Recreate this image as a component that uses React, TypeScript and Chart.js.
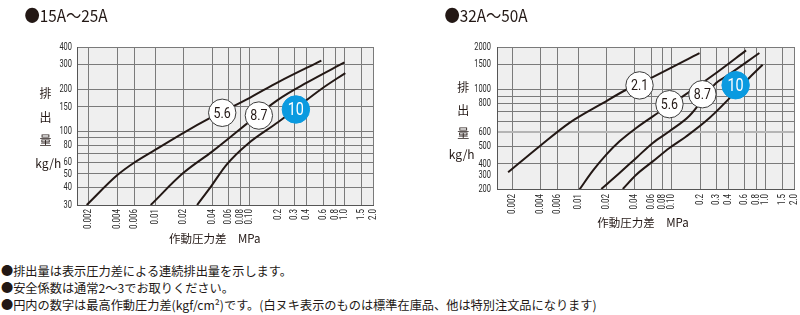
import React, { useEffect, useRef } from "react";
import { Chart, registerables } from "chart.js";

Chart.register(...registerables);

// ---------- shared axis data ----------
const pressureTicks = [0.002, 0.004, 0.006, 0.01, 0.02, 0.04, 0.06, 0.08, 0.1, 0.2, 0.3, 0.4, 0.6, 0.8, 1.0, 1.5, 2.0];
const pressureLabels = ["0.002", "0.004", "0.006", "0.01", "0.02", "0.04", "0.06", "0.08", "0.10", "0.2", "0.3", "0.4", "0.6", "0.8", "1.0", "1.5", "2.0"];

// ---------- 15A～25A ----------
const smallYTicks = [30, 40, 50, 60, 70, 80, 90, 100, 150, 200, 300, 400];
const smallYLabels = ["30", "40", "50", "60", "", "80", "", "100", "150", "200", "300", "400"];

const small56X = [0.0019, 0.004, 0.006, 0.01, 0.02, 0.04, 0.1, 0.2, 0.57];
const small56Y = [30, 49, 60, 74, 98, 127, 174, 225, 320];
const small87X = [0.009, 0.0198, 0.04, 0.2, 0.4, 1.0];
const small87Y = [30, 50.6, 72, 169, 223, 311];
const small10X = [0.0278, 0.0394, 0.0567, 0.0957, 0.2, 0.57, 1.02];
const small10Y = [30, 41.1, 58, 82, 117, 201, 261];

const smallBadgeText = ["5.6", "8.7", "10"];
const smallBadgeX = [0.0512, 0.1248, 0.3067];
const smallBadgeY = [136, 130, 143.6];
const smallBadgeFilled = [false, false, true];

// ---------- 32A～50A ----------
const largeYTicks = [200, 250, 300, 400, 500, 600, 700, 800, 900, 1000, 1500, 2000];
const largeYLabels = ["200", "300", "400", "500", "600", "", "", "800", "", "1000", "1500", "2000"];

const large21X = [0.0018, 0.0039, 0.0081, 0.0184, 0.0326, 0.0626, 0.197];
const large21Y = [262, 400, 585, 806, 1000, 1229, 1814];
const large56X = [0.0104, 0.0144, 0.02, 0.0277, 0.0417, 0.0626, 0.1306, 0.296, 0.617];
const large56Y = [199, 269, 349, 433, 538, 649, 898, 1312, 1893];
const large87X = [0.0177, 0.0277, 0.0417, 0.0626, 0.0942, 0.154, 0.296, 0.378, 0.855];
const large87Y = [200, 259, 331, 422, 510, 656, 1116, 1241, 1814];
const large10X = [0.03, 0.0417, 0.0626, 0.0942, 0.142, 0.251, 0.669, 0.927];
const large10Y = [200, 252, 313, 389, 469, 632, 1216, 1500];

const largeBadgeText = ["2.1", "5.6", "8.7", "10"];
const largeBadgeX = [0.0452, 0.0942, 0.2115, 0.4775];
const largeBadgeY = [1073, 791, 930, 1076];
const largeBadgeFilled = [false, false, false, true];

// ---------- styles ----------
const SANS = "Roboto, 'Noto Sans', sans-serif";
const JP = "'Noto Sans CJK JP', 'Noto Sans', sans-serif";
const INK = "#231815";
const LABEL = "#2a2a2a";
const BLUE = "#0a9ae0";
const GRID = "#7a7a7a";
const PLOT_BG = "#efefef";

type Series = { xs: number[]; ys: number[] };

type PanelProps = {
  left: number;
  width: number;
  height: number;
  xMin: number;
  yMin: number;
  yMax: number;
  yTicks: number[];
  yLabels: string[];
  series: Series[];
  badgeText: string[];
  badgeX: number[];
  badgeY: number[];
  badgeFilled: boolean[];
  yAxisWidth: number;
  xAxisHeight: number;
  padTop: number;
  padRight: number;
  yLabelPad: number;
  xLabelPad: number;
  highlightY?: number;
  labelOnlyY?: number;
};

// draws text horizontally condensed (the reference uses a condensed gothic face)
function condensedText(ctx: any, text: string, x: number, y: number, rot: number, sx: number) {
  ctx.save();
  ctx.translate(x, y);
  if (rot) ctx.rotate(rot);
  ctx.scale(sx, 1);
  ctx.fillText(text, 0, 0);
  ctx.restore();
}

function Panel(p: PanelProps) {
  const ref = useRef<HTMLCanvasElement>(null);
  useEffect(() => {
    const decor = {
      id: "decor",
      beforeDraw(chart: any) {
        const { ctx, chartArea } = chart;
        ctx.save();
        ctx.fillStyle = PLOT_BG;
        ctx.fillRect(chartArea.left, chartArea.top, chartArea.right - chartArea.left, chartArea.bottom - chartArea.top);
        ctx.restore();
      },
      afterDatasetsDraw(chart: any) {
        const { ctx } = chart;
        const xs = chart.scales.x;
        const ys = chart.scales.y;
        p.badgeText.forEach((t, i) => {
          const px = xs.getPixelForValue(p.badgeX[i]);
          const py = ys.getPixelForValue(p.badgeY[i]);
          const filled = p.badgeFilled[i];
          ctx.save();
          ctx.beginPath();
          ctx.arc(px, py, 13.7, 0, Math.PI * 2);
          ctx.fillStyle = filled ? BLUE : "#ffffff";
          ctx.fill();
          ctx.lineWidth = 1;
          ctx.strokeStyle = filled ? BLUE : "#3c3c3c";
          ctx.stroke();
          ctx.fillStyle = filled ? "#ffffff" : INK;
          ctx.font = filled ? `18px ${SANS}` : `15.5px ${SANS}`;
          ctx.textAlign = "center";
          ctx.textBaseline = "middle";
          condensedText(ctx, t, px, py + 1, 0, 0.8);
          ctx.restore();
        });
      },
      afterDraw(chart: any) {
        const { ctx, chartArea } = chart;
        const xs = chart.scales.x;
        const ys = chart.scales.y;
        ctx.save();
        ctx.fillStyle = LABEL;
        ctx.textAlign = "right";
        ctx.textBaseline = "middle";
        ctx.font = `11px ${SANS}`;
        ys.ticks.forEach((t: any) => {
          if (!t.label) return;
          condensedText(ctx, String(t.label), chartArea.left - p.yLabelPad, ys.getPixelForValue(t.value), 0, 0.68);
        });
        ctx.font = `10px ${SANS}`;
        xs.ticks.forEach((t: any) => {
          if (!t.label) return;
          condensedText(ctx, String(t.label), xs.getPixelForValue(t.value), chartArea.bottom + p.xLabelPad, -Math.PI / 2, 0.8);
        });
        ctx.restore();
      },
    };

    const chart = new Chart(ref.current as HTMLCanvasElement, {
      type: "scatter",
      data: {
        datasets: p.series.map((s) => ({
          data: s.xs.map((x, i) => ({ x, y: s.ys[i] })),
          showLine: true,
          borderColor: INK,
          borderWidth: 2,
          pointRadius: 0,
          cubicInterpolationMode: "monotone" as const,
        })),
      },
      options: {
        responsive: false,
        animation: false,
        events: [],
        layout: { padding: { top: p.padTop, right: p.padRight, left: 0, bottom: 0 } },
        plugins: { legend: { display: false }, tooltip: { enabled: false } },
        scales: {
          x: {
            type: "logarithmic",
            min: p.xMin,
            max: 2.0,
            afterBuildTicks: (s: any) => {
              s.ticks = pressureTicks.map((v) => ({ value: v }));
            },
            afterFit: (s: any) => {
              s.height = p.xAxisHeight;
            },
            ticks: {
              display: false,
              autoSkip: false,
              callback: (_v: any, i: number) => pressureLabels[i],
            },
            grid: { color: GRID, lineWidth: 1, drawTicks: false },
            border: { display: true, color: "#555555", width: 1 },
          },
          y: {
            type: "logarithmic",
            min: p.yMin,
            max: p.yMax,
            afterBuildTicks: (s: any) => {
              s.ticks = p.yTicks.map((v) => ({ value: v }));
            },
            afterFit: (s: any) => {
              s.width = p.yAxisWidth;
            },
            ticks: {
              display: false,
              autoSkip: false,
              callback: (_v: any, i: number) => p.yLabels[i],
            },
            grid: {
              drawTicks: false,
              color: (ctx: any) => {
                const v = ctx.tick ? ctx.tick.value : null;
                if (v === p.labelOnlyY) return "rgba(0,0,0,0)";
                if (v === p.highlightY) return "#b5b5b5";
                return GRID;
              },
              lineWidth: (ctx: any) => (ctx.tick && ctx.tick.value === p.highlightY ? 2 : 1),
            },
            border: { display: true, color: "#555555", width: 1 },
          },
        },
      } as any,
      plugins: [decor],
    });
    return () => chart.destroy();
  }, []);
  return (
    <canvas
      ref={ref}
      width={p.width}
      height={p.height}
      style={{ position: "absolute", left: p.left, top: 0, width: p.width, height: p.height }}
    />
  );
}

function Txt(props: { x: number; y: number; size: number; children: React.ReactNode; sx?: number }) {
  return (
    <div
      style={{
        position: "absolute",
        left: props.x,
        top: props.y,
        transform: `translate(-50%, -50%) scaleX(${props.sx || 1})`,
        fontSize: props.size,
        lineHeight: 1,
        whiteSpace: "nowrap",
        fontFamily: JP,
        color: INK,
      }}
    >
      {props.children}
    </div>
  );
}

export default function App() {
  return (
    <div
      style={{
        position: "absolute",
        left: 0,
        top: 0,
        width: 800,
        height: 315,
        overflow: "hidden",
        background: "#ffffff",
        fontFamily: JP,
        color: INK,
      }}
    >
      <Panel
        left={0}
        width={400}
        height={250}
        xMin={0.0015}
        yMin={30}
        yMax={400}
        yTicks={smallYTicks}
        yLabels={smallYLabels}
        series={[
          { xs: small56X, ys: small56Y },
          { xs: small87X, ys: small87Y },
          { xs: small10X, ys: small10Y },
        ]}
        badgeText={smallBadgeText}
        badgeX={smallBadgeX}
        badgeY={smallBadgeY}
        badgeFilled={smallBadgeFilled}
        yAxisWidth={77}
        xAxisHeight={45}
        padTop={47}
        padRight={27}
        yLabelPad={5}
        xLabelPad={4}
      />
      <Panel
        left={400}
        width={400}
        height={235}
        xMin={0.00137}
        yMin={200}
        yMax={2000}
        yTicks={largeYTicks}
        yLabels={largeYLabels}
        series={[
          { xs: large21X, ys: large21Y },
          { xs: large56X, ys: large56Y },
          { xs: large87X, ys: large87Y },
          { xs: large10X, ys: large10Y },
        ]}
        badgeText={largeBadgeText}
        badgeX={largeBadgeX}
        badgeY={largeBadgeY}
        badgeFilled={largeBadgeFilled}
        yAxisWidth={97}
        xAxisHeight={46}
        padTop={47}
        padRight={6}
        yLabelPad={6}
        xLabelPad={5}
        highlightY={500}
        labelOnlyY={250}
      />

      <Txt x={66} y={13.5} size={17} sx={0.9}>●15A～25A</Txt>
      <Txt x={486} y={13.5} size={17} sx={0.9}>●32A～50A</Txt>

      <Txt x={45.5} y={93} size={12}>排</Txt>
      <Txt x={45.5} y={116.7} size={12}>出</Txt>
      <Txt x={45.5} y={140} size={12}>量</Txt>
      <Txt x={48.3} y={163.3} size={12}>kg/h</Txt>

      <Txt x={463.3} y={87.3} size={12}>排</Txt>
      <Txt x={463.3} y={110} size={12}>出</Txt>
      <Txt x={463.3} y={132.7} size={12}>量</Txt>
      <Txt x={461.7} y={154.3} size={12}>kg/h</Txt>

      <Txt x={214.7} y={238.5} size={11.5}>作動圧力差　MPa</Txt>
      <Txt x={643} y={223.3} size={11.5}>作動圧力差　MPa</Txt>

      <div
        style={{
          position: "absolute",
          left: 1,
          top: 263.3,
          fontSize: 12.2,
          lineHeight: "16.67px",
          whiteSpace: "nowrap",
          fontFamily: JP,
          color: INK,
        }}
      >
        <div>●排出量は表示圧力差による連続排出量を示します。</div>
        <div>●安全係数は通常2～3でお取りください。</div>
        <div>●円内の数字は最高作動圧力差(kgf/cm²)です。(白ヌキ表示のものは標準在庫品、他は特別注文品になります)</div>
      </div>
    </div>
  );
}
